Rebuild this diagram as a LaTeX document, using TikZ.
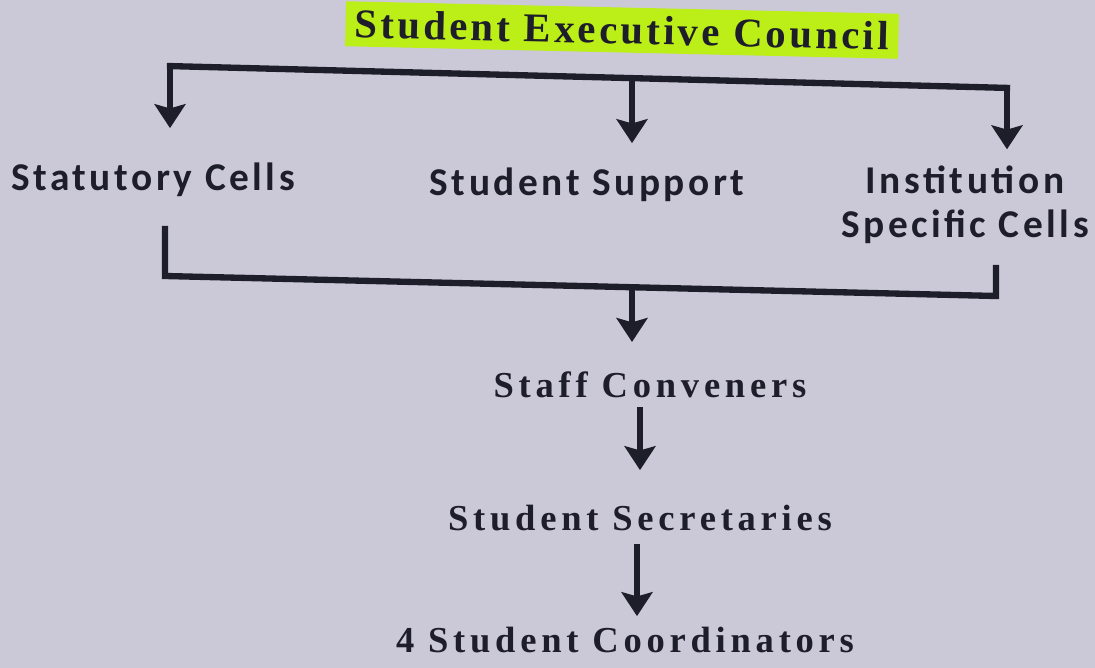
\documentclass[tikz,border=0pt]{standalone}
\usepackage{fontspec}
\setmainfont{Liberation Serif}
\setsansfont{Carlito}
\usetikzlibrary{arrows.meta, positioning}
\definecolor{paper}{RGB}{203,201,216}
\definecolor{ink}{RGB}{30,30,42}
\definecolor{marker}{RGB}{188,238,24}
\tikzset{
    heading/.style = {font=\fontsize{29}{33}\selectfont\bfseries\addfontfeature{LetterSpace=8}, text=ink},
    cell/.style = {font=\fontsize{28}{31}\selectfont\sffamily\bfseries\addfontfeature{LetterSpace=9}, text=ink, align=center},
    rank/.style = {font=\fontsize{26}{30}\selectfont\bfseries\addfontfeature{LetterSpace=13}, text=ink},
    line/.style = {draw=ink, line width=4.5pt},
    arrow/.style = {line, -{Stealth[width=22pt, length=17pt, inset=3pt]}}
}
\begin{document}
\begin{tikzpicture}[x=0.025cm, y=-0.025cm]
        \fill[paper] (0,0) rectangle (1095,668);
        \useasboundingbox (0,0) rectangle (1095,668);

        % Title
        \node [heading, fill=marker, rotate=-1.3, minimum width=553*0.025cm, minimum height=32pt, inner sep=1pt] (council) at (622,30) {Student Executive Council};

        % Cells
        \node [cell] (statutory) at (153,180) {Statutory Cells};
        \node [cell] (support) at (587,185) {Student Support};
        \node [cell] (institution) at (965,205) {Institution\\Specific Cells};

        % Top bracket
        \coordinate (tl) at (170,66);
        \coordinate (tm) at (632,78);
        \coordinate (tr) at (1007,88);
        \draw [line] ([xshift=-2.25pt]tl) -- ([xshift=2.25pt]tr);
        \draw [arrow, shorten >=30*0.025cm] (tl) -- (tl |- statutory.north);
        \draw [arrow, shorten >=20*0.025cm] (tm) -- (tm |- support.north);
        \draw [arrow, shorten >=12*0.025cm] (tr) -- (tr |- institution.north);

        % Ranks
        \node [rank] (staff) at (650,385) {Staff Conveners};
        \node [rank] (secretaries) at (640,518) {Student Secretaries};
        \node [rank] (coordinators) at (625,640) {4 Student Coordinators};

        % Bottom bracket
        \coordinate (bl) at (165,226);
        \coordinate (blc) at (165,276);
        \coordinate (brc) at (996,296);
        \coordinate (br) at (996,265);
        \coordinate (bm) at (632,286);
        \draw [line] (bl) -- (blc) -- (brc) -- (br);
        \draw [arrow, shorten >=25*0.025cm] (bm) -- (bm |- staff.north);

        % Chain
        \draw [arrow, shorten <=4*0.025cm, shorten >=30*0.025cm] (staff.south -| secretaries.north) -- (secretaries.north);
        \draw [arrow, shorten <=8*0.025cm, shorten >=6*0.025cm] (secretaries.south -| 637,0) -- (coordinators.north -| 637,0);
    \end{tikzpicture}
\end{document}
